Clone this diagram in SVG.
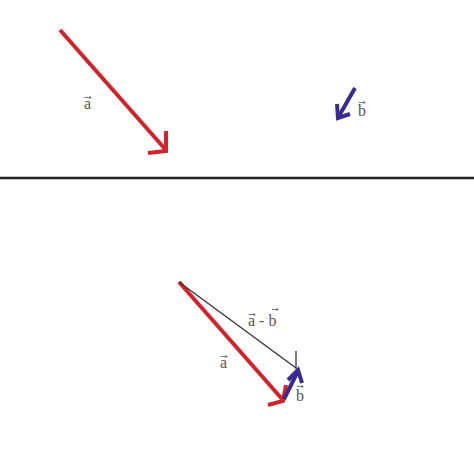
<svg xmlns="http://www.w3.org/2000/svg" width="474" height="474" viewBox="0 0 474 474">
<style>
.red{stroke:#d2232a;stroke-width:4;fill:none;stroke-linecap:butt}
.blue{stroke:#3b2a8f;stroke-width:4;fill:none}
.lbl{font-family:"Liberation Serif","DejaVu Serif",serif;font-size:16px;fill:#5a5050}
.vec{stroke:#5a5050;stroke-width:0.8;fill:none}
</style>
<rect width="474" height="474" fill="#ffffff"/>
<g id="divider"><line x1="0" y1="178" x2="474" y2="178" stroke="#222" stroke-width="2.5"/></g>
<g id="connectors">
<g id="vec-a-top"><path class="red" d="M60 30 L165 149"/><path class="red" d="M166 131 L166 151 L148 153"/></g>
<g id="vec-b-top"><path class="blue" d="M355 88 L339 116"/><path class="blue" d="M337 104 L338 118 L350 114"/></g>
<g id="vec-a-bottom"><path class="red" d="M179 282 L282 399"/><path class="red" d="M286 385 L283 401 L268 405"/></g>
<g id="vec-diff"><path d="M179 282 L296 368" stroke="#333" stroke-width="1.3" fill="none"/><path d="M296 351 L296 369" stroke="#333" stroke-width="1.3" fill="none"/></g>
<g id="vec-b-bottom"><path class="blue" d="M284 399 L297 373"/><path class="blue" d="M288 380 L298 370 L302 383"/></g>
</g>
<g id="label-a-top"><text class="lbl" x="84" y="109">a</text><path class="vec" d="M84.5 97.5 H91 M89.5 96 L91 97.5 L89.5 99"/></g>
<g id="label-b-top"><text class="lbl" x="358" y="116">b</text><path class="vec" d="M359 102.5 H365 M363.5 101 L365 102.5 L363.5 104"/></g>
<g id="label-diff"><text class="lbl" x="248" y="326">a - b</text><path class="vec" d="M248.5 314.5 H255 M253.5 313 L255 314.5 L253.5 316"/><path class="vec" d="M272 309.5 H278 M276.5 308 L278 309.5 L276.5 311"/></g>
<g id="label-a-bottom"><text class="lbl" x="220" y="368">a</text><path class="vec" d="M220.5 356.5 H227 M225.5 355 L227 356.5 L225.5 358"/></g>
<g id="label-b-bottom"><text class="lbl" x="296" y="401">b</text><path class="vec" d="M297 386.5 H303 M301.5 385 L303 386.5 L301.5 388"/></g>
</svg>
